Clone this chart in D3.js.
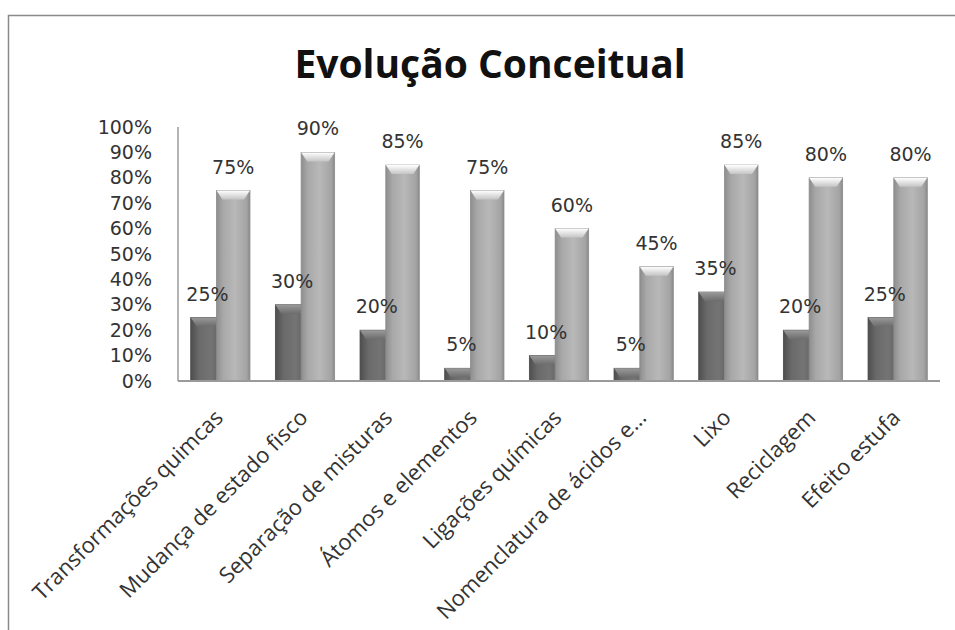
<!DOCTYPE html>
<html>
<head>
<meta charset="utf-8">
<script src="https://cdn.jsdelivr.net/npm/d3@7/dist/d3.min.js"></script>
<style>
  html, body { margin: 0; padding: 0; background: #fff; }
  svg { display: block; }
</style>
</head>
<body>
<svg id="chart" width="955" height="630"></svg>
<script>
// Chart data
const categories = [
  "Transformações quimcas",
  "Mudança de estado fisco",
  "Separação de misturas",
  "Átomos e elementos",
  "Ligações químicas",
  "Nomenclatura de ácidos e...",
  "Lixo",
  "Reciclagem",
  "Efeito estufa"
];
const before = [25, 30, 20, 5, 10, 5, 35, 20, 25];
const after  = [75, 90, 85, 75, 60, 45, 85, 80, 80];
const yTicks = [0, 10, 20, 30, 40, 50, 60, 70, 80, 90, 100];
const title = "Evolução Conceitual";

const svg = d3.select("#chart");
const plot = { left: 178, right: 940, top: 127, bottom: 381 };

// Gradients for the bevelled bars
const defs = svg.append("defs");
function barGradient(id, stops) {
  const g = defs.append("linearGradient").attr("id", id)
    .attr("x1", "0%").attr("x2", "100%").attr("y1", "0%").attr("y2", "0%");
  stops.forEach(([o, c]) => g.append("stop").attr("offset", o).attr("stop-color", c));
}
barGradient("gDark", [["0%", "#4e4e4e"], ["25%", "#6a6a6a"], ["60%", "#747474"], ["100%", "#5a5a5a"]]);
barGradient("gLight", [["0%", "#8e8e8e"], ["20%", "#a8a8a8"], ["55%", "#b8b8b8"], ["90%", "#a4a4a4"], ["100%", "#8a8a8a"]]);
function capGradient(id, top, bottom) {
  const g = defs.append("linearGradient").attr("id", id)
    .attr("x1", "0%").attr("x2", "0%").attr("y1", "0%").attr("y2", "100%");
  g.append("stop").attr("offset", "0%").attr("stop-color", top);
  g.append("stop").attr("offset", "100%").attr("stop-color", bottom);
}
capGradient("cDark", "#9a9a9a", "#6c6c6c");
capGradient("cLight", "#ffffff", "#c4c4c4");

// Outer chart frame
svg.append("rect")
  .attr("x", 8.5).attr("y", 15.5).attr("width", 1000).attr("height", 700)
  .attr("fill", "none").attr("stroke", "#8a8a8a").attr("stroke-width", 1.5);

// Title
svg.append("text")
  .attr("x", 490).attr("y", 78)
  .attr("text-anchor", "middle")
  .attr("font-family", "'Open Sans', Lato, sans-serif")
  .attr("font-weight", "bold")
  .attr("font-size", 39)
  .attr("fill", "#111")
  .text(title);

// Scales
const x = d3.scaleBand()
  .domain(categories)
  .range([plot.left, plot.right])
  .paddingInner(0.30)
  .paddingOuter(0.15);
const y = d3.scaleLinear().domain([0, 100]).range([plot.bottom, plot.top]);

const bw = x.bandwidth();
const barW = bw * 0.565;
const offset = bw - barW;

// Y axis labels
const yAxis = d3.axisLeft(y).tickValues(yTicks).tickFormat(d => d + "%").tickSize(0).tickPadding(26);
const gy = svg.append("g").attr("transform", `translate(${plot.left},0)`).call(yAxis);
gy.select(".domain").remove();
gy.selectAll("text")
  .attr("font-family", "'DejaVu Sans', Verdana, sans-serif")
  .attr("font-size", 19)
  .attr("fill", "#333");

// Axis lines
svg.append("line")
  .attr("x1", plot.left).attr("x2", plot.left)
  .attr("y1", plot.top).attr("y2", plot.bottom)
  .attr("stroke", "#9a9a9a").attr("stroke-width", 1.5);

// Bars drawn as a bevelled column
function drawBar(g, x0, v, fillId, capId, edge) {
  const top = y(v), h = plot.bottom - top;
  g.append("rect").attr("x", x0).attr("y", top).attr("width", barW).attr("height", h)
    .attr("fill", `url(#${fillId})`).attr("stroke", edge).attr("stroke-width", 0.8);
  const cap = Math.min(9, h);
  const inset = Math.min(6, barW / 4);
  g.append("path")
    .attr("d", `M${x0},${top} L${x0 + barW},${top} L${x0 + barW - inset},${top + cap} L${x0 + inset},${top + cap} Z`)
    .attr("fill", `url(#${capId})`);
}

const groups = svg.append("g").selectAll("g")
  .data(categories)
  .join("g");

groups.each(function (c, i) {
  const g = d3.select(this);
  const bx = x(c);
  drawBar(g, bx, before[i], "gDark", "cDark", "#4a4a4a");
  drawBar(g, bx + offset, after[i], "gLight", "cLight", "#8a8a8a");
});

// Baseline on top of the bars
svg.append("line")
  .attr("x1", plot.left).attr("x2", plot.right)
  .attr("y1", plot.bottom).attr("y2", plot.bottom)
  .attr("stroke", "#9a9a9a").attr("stroke-width", 2);

// Value labels
const labelFont = "'DejaVu Sans', Verdana, sans-serif";
groups.append("text")
  .attr("x", c => x(c) + barW / 2)
  .attr("y", (c, i) => y(before[i]) - 17)
  .attr("text-anchor", "middle")
  .attr("font-family", labelFont).attr("font-size", 19).attr("fill", "#333")
  .text((c, i) => before[i] + "%");
groups.append("text")
  .attr("x", c => x(c) + offset + barW / 2)
  .attr("y", (c, i) => y(after[i]) - 17)
  .attr("text-anchor", "middle")
  .attr("font-family", labelFont).attr("font-size", 19).attr("fill", "#333")
  .text((c, i) => after[i] + "%");

// Category labels, rotated
svg.append("g").selectAll("text")
  .data(categories)
  .join("text")
  .attr("transform", c => `translate(${x(c) + bw / 2 + 4},${plot.bottom + 38}) rotate(-45)`)
  .attr("text-anchor", "end")
  .attr("font-family", "'Open Sans', Lato, sans-serif")
  .attr("font-size", 22)
  .attr("fill", "#333")
  .text(c => c);
</script>
</body>
</html>
